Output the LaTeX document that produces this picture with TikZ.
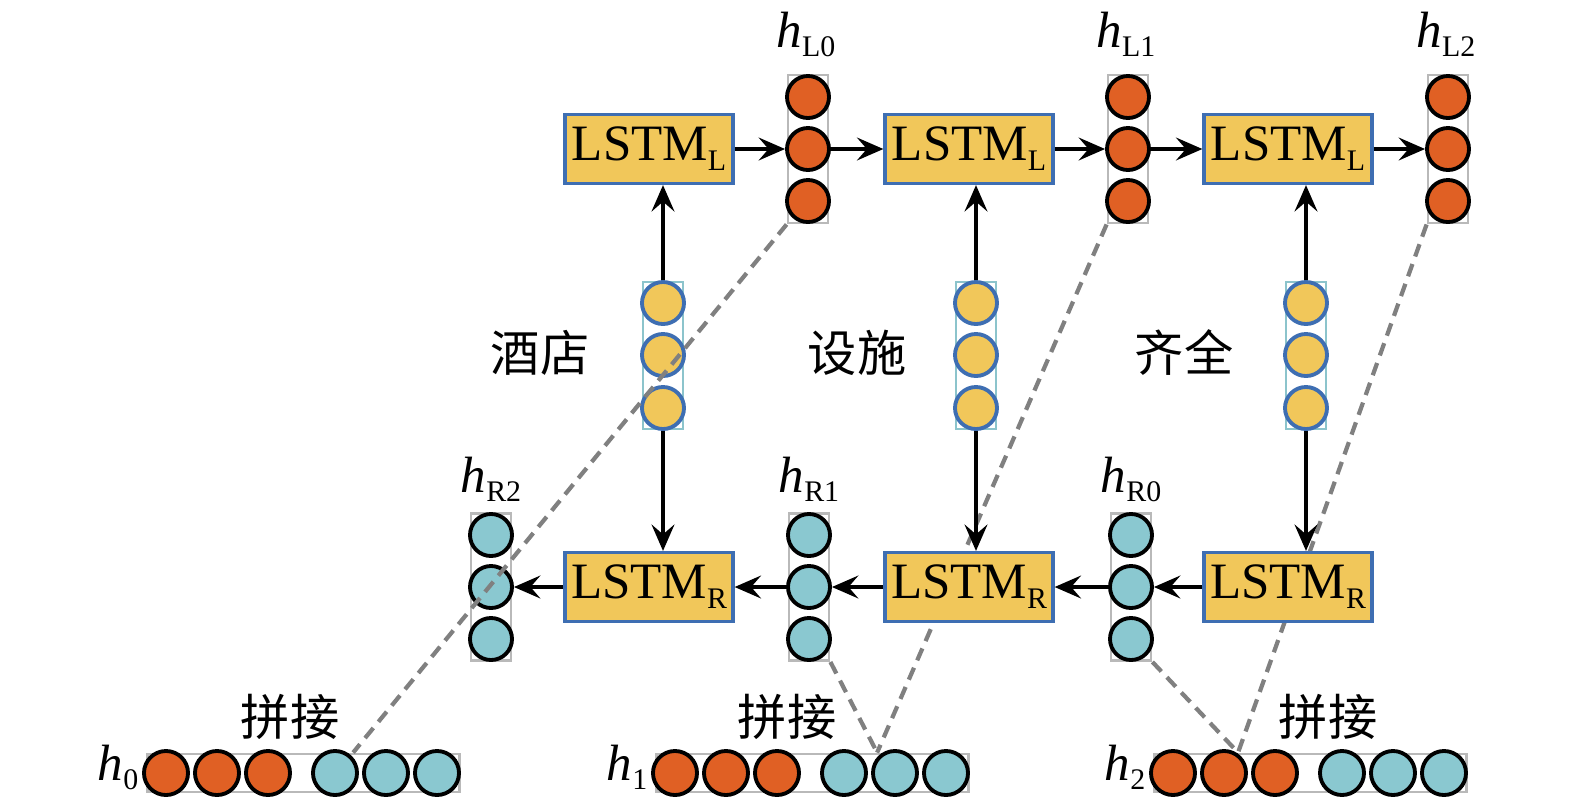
\documentclass[tikz,border=0pt]{standalone}
\usepackage{fontspec}
\setmainfont{Liberation Serif}
\newfontfamily\cjk{Noto Sans CJK SC}
\usetikzlibrary{arrows.meta}

\definecolor{cellorange}{RGB}{224,96,36}
\definecolor{cellcyan}{RGB}{138,200,208}
\definecolor{boxyellow}{RGB}{241,199,90}
\definecolor{boxblue}{RGB}{62,110,178}
\definecolor{wordframe}{RGB}{140,196,204}
\definecolor{stackgray}{RGB}{185,185,185}

\newcommand{\lsub}[1]{\raisebox{-2.8pt}{\fontsize{8.5}{9}\selectfont #1}}

\begin{document}
\begin{tikzpicture}[x=0.01cm,y=-0.01cm]
\tikzset{
  lstm/.style={draw=boxblue, fill=boxyellow, line width=0.9pt, minimum width=1.68cm,
    minimum height=0.69cm, inner sep=0pt, font=\fontsize{14.5}{17}\selectfont},
  cell/.style={circle, draw=black, line width=1.1pt, minimum size=0.42cm, inner sep=0pt},
  lcell/.style={cell, fill=cellorange},
  rcell/.style={cell, fill=cellcyan},
  wcell/.style={circle, draw=boxblue, fill=boxyellow, line width=1.1pt, minimum size=0.42cm, inner sep=0pt},
  frame/.style={draw=stackgray, line width=0.8pt, inner sep=0pt, minimum width=0.4cm},
  hlabel/.style={font=\fontsize{14.5}{17}\selectfont, inner sep=0pt},
  word/.style={font=\cjk\fontsize{14}{17}\selectfont, inner sep=0pt},
  link/.style={-{Stealth[length=7.5pt,width=6.5pt,inset=2.8pt]}, line width=1pt},
  concat/.style={draw=gray, line width=1.2pt, dash pattern=on 0.13cm off 0.08cm}
}
\useasboundingbox (0,0) rectangle (1575,811);

% forward states
\foreach \n/\x in {0/808,1/1128,2/1448} {
  \node[frame, minimum height=1.48cm] (hL\n) at (\x,149) {};
  \foreach \k/\y in {1/97,2/149,3/201}
    \node[lcell] (hL\n-\k) at (\x,\y) {};
  \node[hlabel, anchor=base] (lab-hL\n) at (\x-2,47) {\textit{h}\lsub{L\n}};
}

% backward states
\foreach \n/\x in {2/491,1/809,0/1131} {
  \node[frame, minimum height=1.47cm] (hR\n) at (\x,587) {};
  \foreach \k/\y in {1/535,2/587,3/639}
    \node[rcell] (hR\n-\k) at (\x,\y) {};
  \node[hlabel, anchor=base] (lab-hR\n) at (\x,492) {\textit{h}\lsub{R\n}};
}

% word vectors
\foreach \n/\x/\c/\w in {1/663/540/酒店, 2/976/857/设施, 3/1306/1184/齐全} {
  \node[frame, draw=wordframe, minimum height=1.47cm] (w\n) at (\x,355.5) {};
  \foreach \k/\y in {1/303,2/355,3/408}
    \node[wcell] (w\n-\k) at (\x,\y) {};
  \node[word] (word\n) at (\c,353) {\w};
}

% concatenated outputs
\foreach \n/\l/\c in {0/146/290, 1/655/787, 2/1153/1328} {
  \node[frame, minimum width=3.12cm, minimum height=0.38cm, anchor=west] (h\n) at (\l,773) {};
  \foreach \k/\dx in {1/20,2/71,3/122}
    \node[lcell, minimum size=0.44cm] (h\n-\k) at (\l+\dx,773) {};
  \foreach \k/\dx in {4/189,5/240,6/291}
    \node[rcell, minimum size=0.44cm] (h\n-\k) at (\l+\dx,773) {};
  \node[hlabel, anchor=base east] (lab-h\n) at (\l-7,780) {\textit{h}\lsub{\n}};
  \node[word] (cat\n) at (\c,717) {拼接};
}

\draw[concat] (hL0.south west) -- ([xshift=2.07cm]h0.north west);
\draw[concat] (hL1.south west) -- ([xshift=2.22cm]h1.north west);
\draw[concat] (hL2.south west) -- ([xshift=0.85cm]h2.north west);
\draw[concat] (hR1.south east) -- ([xshift=2.22cm]h1.north west);
\draw[concat] (hR0.south east) -- ([xshift=0.85cm]h2.north west);

% LSTM cells
\foreach \n/\x in {1/649,2/969,3/1288} {
  \node[lstm] (lstmL\n) at (\x,149) {LSTM\lsub{L}};
  \node[lstm] (lstmR\n) at (\x,587) {LSTM\lsub{R}};
}

\draw[link] (lstmL1.east) -- (hL0-2.west);
\draw[link] (hL0-2.east) -- (lstmL2.west);
\draw[link] (lstmL2.east) -- (hL1-2.west);
\draw[link] (hL1-2.east) -- (lstmL3.west);
\draw[link] (lstmL3.east) -- (hL2-2.west);

\draw[link] (lstmR3.west) -- (hR0-2.east);
\draw[link] (hR0-2.west) -- (lstmR2.east);
\draw[link] (lstmR2.west) -- (hR1-2.east);
\draw[link] (hR1-2.west) -- (lstmR1.east);
\draw[link] (lstmR1.west) -- (hR2-2.east);

\foreach \n in {1,2,3} {
  \draw[link] (w\n-1.north) -- (w\n-1.north |- lstmL\n.south);
  \draw[link] (w\n-3.south) -- (w\n-3.south |- lstmR\n.north);
}
\end{tikzpicture}
\end{document}
